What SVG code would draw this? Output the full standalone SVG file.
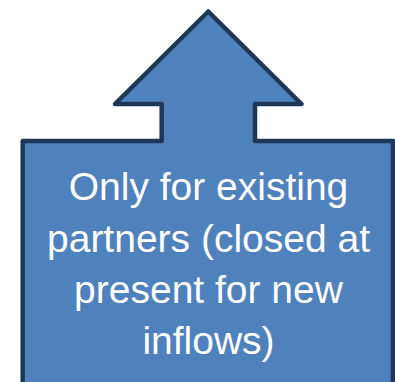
<svg xmlns="http://www.w3.org/2000/svg" width="395" height="382" viewBox="0 0 395 382">
  <style>
    .shape { fill: #4f81bd; stroke: #1f3756; stroke-width: 4.5; stroke-linejoin: round; }
    .label { fill: #ffffff; font-family: "Liberation Sans", Arial, sans-serif; font-size: 39px; text-anchor: middle; }
  </style>
  <g id="connectors"></g>
  <g id="callout">
    <path class="shape" d="M22.7,395 L22.7,141 L161.7,141 L161.7,104 L115,104 L208.3,11.5 L301.5,104 L255,104 L255,141 L393,141 L393,395"/>
    <text class="label" x="208.5" y="200">Only for existing</text>
    <text class="label" x="208.5" y="251.5">partners (closed at</text>
    <text class="label" x="208.5" y="303">present for new</text>
    <text class="label" x="208.5" y="354">inflows)</text>
  </g>
</svg>
